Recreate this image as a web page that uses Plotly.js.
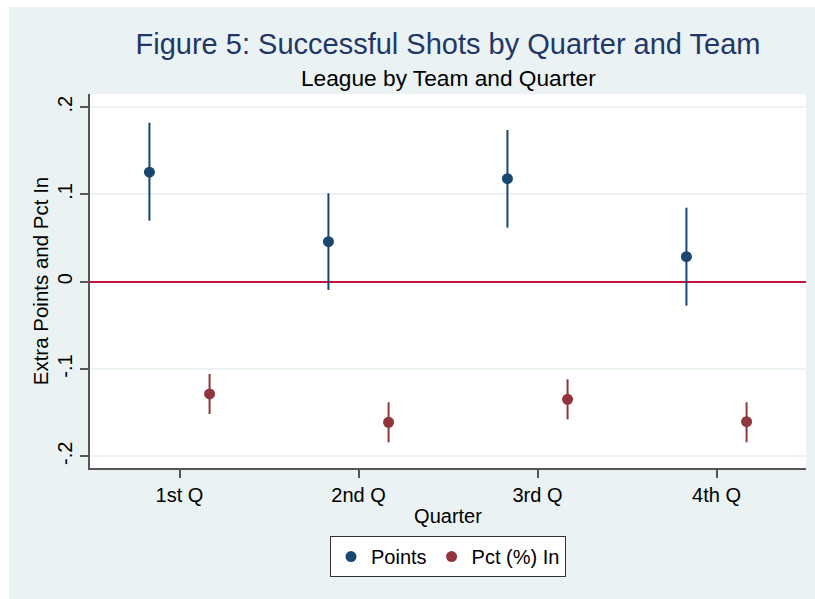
<!DOCTYPE html>
<html>
<head>
<meta charset="utf-8">
<script src="https://cdn.plot.ly/plotly-3.0.1.min.js"></script>
<style>
  html, body { margin: 0; padding: 0; background: #ffffff; }
  #chart { position: absolute; left: 9px; top: 7px; width: 806px; height: 592px; }
</style>
</head>
<body>
<div id="chart"></div>
<script>
const quarters = ['1st Q', '2nd Q', '3rd Q', '4th Q'];
const quarterPos = [1, 2, 3, 4];

const pointsEst = [0.1254, 0.0458, 0.1180, 0.0286];
const pointsHigh = [0.1822, 0.1013, 0.1738, 0.0848];
const pointsLow = [0.0699, -0.0095, 0.0619, -0.0275];

const pctEst = [-0.1286, -0.1610, -0.1347, -0.1604];
const pctHigh = [-0.1057, -0.1381, -0.1118, -0.1381];
const pctLow = [-0.1515, -0.1840, -0.1576, -0.1840];

const yTicks = [-0.2, -0.1, 0, 0.1, 0.2];
const yTickText = ['-.2', '-.1', '0', '.1', '.2'];

// horizontal dodge of the two series within each quarter
const dodge = 0.168;
const blue = '#1a476f';
const maroon = '#90353b';

function ciTrace(name, est, hi, lo, shift, color) {
  return {
    x: quarterPos.map(q => q + shift),
    y: est,
    name: name,
    type: 'scatter',
    mode: 'markers',
    marker: { color: color, size: 11 },
    error_y: {
      type: 'data',
      symmetric: false,
      array: hi.map((h, i) => h - est[i]),
      arrayminus: lo.map((l, i) => est[i] - l),
      color: color,
      thickness: 2,
      width: 0
    },
    hoverinfo: 'x+y'
  };
}

const data = [
  ciTrace('Points', pointsEst, pointsHigh, pointsLow, -dodge, blue),
  ciTrace('Pct (%) In', pctEst, pctHigh, pctLow, dodge, maroon)
];

const layout = {
  width: 806,
  height: 592,
  paper_bgcolor: '#eaf2f3',
  plot_bgcolor: '#ffffff',
  font: { family: '"Liberation Sans", Arial, sans-serif', size: 20, color: '#000000' },
  margin: { l: 81, r: 9, t: 87, b: 131 },
  title: {
    text: 'Figure 5: Successful Shots by Quarter and Team',
    font: { size: 29, color: '#1f3767' },
    x: 0.5, xref: 'paper', xanchor: 'center',
    y: 1 - 37 / 592, yref: 'container', yanchor: 'middle'
  },
  annotations: [{
    text: 'League by Team and Quarter',
    xref: 'paper', yref: 'paper',
    x: 0.5, y: 1.043, xanchor: 'center', yanchor: 'middle',
    showarrow: false,
    font: { size: 22.7, color: '#000000' }
  }],
  xaxis: {
    range: [0.5, 4.5],
    tickvals: quarterPos,
    ticktext: quarters,
    ticks: 'outside', ticklen: 8, tickwidth: 1.5, tickcolor: '#555555',
    showline: true, linecolor: '#555555', linewidth: 1.5,
    showgrid: false, zeroline: false,
    title: { text: 'Quarter', standoff: 4, font: { size: 20 } }
  },
  yaxis: {
    range: [-0.2134, 0.215],
    tickvals: yTicks,
    ticktext: yTickText,
    tickangle: -90,
    ticks: 'outside', ticklen: 8, tickwidth: 1.5, tickcolor: '#555555',
    showline: true, linecolor: '#555555', linewidth: 1.5,
    showgrid: true, gridcolor: '#eaf2f3', gridwidth: 1.5,
    zeroline: true, zerolinecolor: '#c4143f', zerolinewidth: 2,
    title: { text: 'Extra Points and Pct In', standoff: 0, font: { size: 20.5 } }
  },
  showlegend: true,
  legend: {
    orientation: 'h',
    x: 0.5, xanchor: 'center',
    y: -0.182, yanchor: 'top',
    bgcolor: '#ffffff',
    bordercolor: '#333333',
    borderwidth: 1,
    font: { size: 20 }
  }
};

Plotly.newPlot('chart', data, layout, { displayModeBar: false, responsive: false });
</script>
</body>
</html>
